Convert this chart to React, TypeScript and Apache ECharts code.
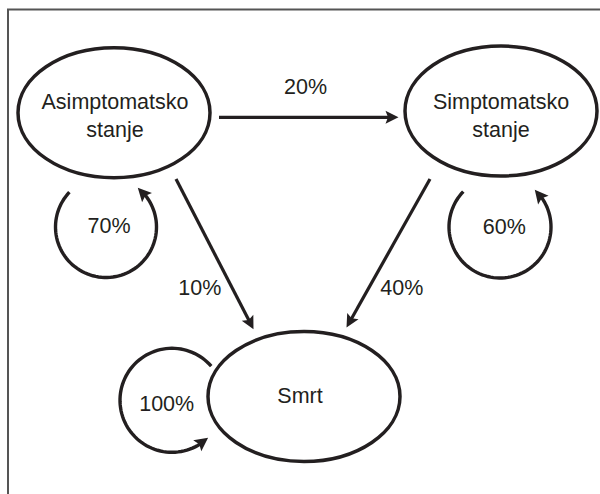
import React, { useEffect, useRef } from 'react';
import * as echarts from 'echarts';

// ---------------- data ----------------
const stateNames = ['Asimptomatsko\nstanje', 'Simptomatsko\nstanje', 'Smrt'];
const selfLoopPct = [70, 60, 100];
const transitionFrom = [0, 0, 1];
const transitionTo = [1, 2, 2];
const transitionPct = [20, 10, 40];

// ---------------- layout (data space = 600 x 494 canvas) ----------------
const nodeCenter = [[114, 112.7], [501, 111], [304, 396.5]];
const nodeRadius = [96, 65];
const nodeLabelPos = [[115, 116], [501, 115.5], [300, 395.5]];
const edgeStart = [[219, 117.3], [176, 179], [430, 179]];
const edgeEnd = [[398.5, 117.3], [253.5, 329.3], [346.5, 327.5]];
const edgeLabelPos = [[305.5, 87.2], [199.8, 287.5], [401.8, 287.5]];
const loopCenter = [[106, 227], [500, 227], [172, 400.3]];
const loopRadius = [50.5, 51, 52];
const loopAngles = [[223.5, -51], [224, -47], [-41, -314]];
const loopLabelPos = [[109, 226], [504.3, 226.7], [166.7, 403.7]];

const INK = '#231f20';
const FONT = '"Liberation Sans", Arial, Helvetica, sans-serif';
const FONT_SIZE = 21.5;

type P = [number, number];

function arrowParts(start: P, tip: P, L = 13, hw = 6.5, notch = 2.5) {
  const dx = tip[0] - start[0];
  const dy = tip[1] - start[1];
  const len = Math.hypot(dx, dy) || 1;
  const ux = dx / len, uy = dy / len;
  const px = -uy, py = ux;
  const bx = tip[0] - ux * L, by = tip[1] - uy * L;
  const head: P[] = [
    tip,
    [bx + px * hw, by + py * hw],
    [tip[0] - ux * (L - notch), tip[1] - uy * (L - notch)],
    [bx - px * hw, by - py * hw],
  ];
  const lineEnd: P = [tip[0] - ux * (L - notch - 1), tip[1] - uy * (L - notch - 1)];
  return { head, lineEnd };
}

function labelText(x: number, y: number, text: string) {
  return {
    type: 'text',
    x,
    y,
    silent: true,
    style: {
      text,
      fill: INK,
      font: `${FONT_SIZE}px ${FONT}`,
      fontSize: FONT_SIZE,
      fontFamily: FONT,
      align: 'center',
      verticalAlign: 'middle',
      lineHeight: 28,
    },
  };
}

export default function App() {
  const ref = useRef<HTMLDivElement | null>(null);

  useEffect(() => {
    document.body.style.margin = '0';
    if (!ref.current) return;
    const chart = echarts.init(ref.current, undefined, { renderer: 'svg' });

    const option: any = {
      animation: false,
      backgroundColor: '#ffffff',
      grid: { left: 0, right: 0, top: 0, bottom: 0 },
      xAxis: { type: 'value', min: 0, max: 600, show: false },
      yAxis: { type: 'value', min: 0, max: 494, inverse: true, show: false },
      graphic: [
        {
          type: 'rect',
          shape: { x: 8, y: 9.5, width: 640, height: 540 },
          style: { fill: 'none', stroke: '#555555', lineWidth: 2 },
          silent: true,
          z: 0,
        },
      ],
      series: [
        // transitions between states
        {
          type: 'custom',
          coordinateSystem: 'cartesian2d',
          silent: true,
          clip: false,
          data: transitionPct.map((p, i) => [edgeLabelPos[i][0], edgeLabelPos[i][1], i, transitionFrom[i], transitionTo[i], p]),
          renderItem: (params: any, api: any) => {
            const i = api.value(2);
            const pct = api.value(5);
            const s = api.coord(edgeStart[i]) as P;
            const e = api.coord(edgeEnd[i]) as P;
            const { head, lineEnd } = arrowParts(s, e);
            const lp = api.coord(edgeLabelPos[i]);
            return {
              type: 'group',
              children: [
                {
                  type: 'line',
                  shape: { x1: s[0], y1: s[1], x2: lineEnd[0], y2: lineEnd[1] },
                  style: { stroke: INK, lineWidth: 3.2, lineCap: 'butt' },
                },
                { type: 'polygon', shape: { points: head }, style: { fill: INK, stroke: 'none' } },
                labelText(lp[0], lp[1], `${pct}%`),
              ],
            };
          },
        },
        // self loops
        {
          type: 'custom',
          coordinateSystem: 'cartesian2d',
          silent: true,
          clip: false,
          data: selfLoopPct.map((p, i) => [loopLabelPos[i][0], loopLabelPos[i][1], i, p]),
          renderItem: (params: any, api: any) => {
            const i = api.value(2);
            const pct = api.value(3);
            const [cx, cy] = loopCenter[i];
            const r = loopRadius[i];
            const [a0, a1] = loopAngles[i];
            const sign = a1 > a0 ? 1 : -1;
            const L = 13.5, notch = 2.5;
            const degPerPx = 180 / (Math.PI * r);
            const lineEndA = a1 - sign * (L - notch - 1) * degPerPx;
            const n = 80;
            const pts: P[] = [];
            for (let k = 0; k <= n; k++) {
              const a = ((a0 + (lineEndA - a0) * (k / n)) * Math.PI) / 180;
              pts.push(api.coord([cx + r * Math.cos(a), cy + r * Math.sin(a)]) as P);
            }
            const aTip = (a1 * Math.PI) / 180;
            const aBack = ((a1 - sign * L * degPerPx) * Math.PI) / 180;
            const tip = api.coord([cx + r * Math.cos(aTip), cy + r * Math.sin(aTip)]) as P;
            const back = api.coord([cx + r * Math.cos(aBack), cy + r * Math.sin(aBack)]) as P;
            const { head } = arrowParts(back, tip, L, 6.8, notch);
            const lp = api.coord(loopLabelPos[i]);
            return {
              type: 'group',
              children: [
                {
                  type: 'polyline',
                  shape: { points: pts },
                  style: { stroke: INK, lineWidth: 3.4, fill: null, lineCap: 'butt' },
                },
                { type: 'polygon', shape: { points: head }, style: { fill: INK, stroke: 'none' } },
                labelText(lp[0], lp[1], `${pct}%`),
              ],
            };
          },
        },
        // states
        {
          type: 'custom',
          coordinateSystem: 'cartesian2d',
          silent: true,
          clip: false,
          data: stateNames.map((name, i) => [nodeCenter[i][0], nodeCenter[i][1], i]),
          renderItem: (params: any, api: any) => {
            const i = api.value(2);
            const c = api.coord([api.value(0), api.value(1)]);
            const edge = api.coord([api.value(0) + nodeRadius[0], api.value(1) + nodeRadius[1]]);
            const rx = Math.abs(edge[0] - c[0]);
            const ry = Math.abs(edge[1] - c[1]);
            const lp = api.coord(nodeLabelPos[i]);
            return {
              type: 'group',
              children: [
                {
                  type: 'ellipse',
                  shape: { cx: c[0], cy: c[1], rx, ry },
                  style: { fill: '#ffffff', stroke: INK, lineWidth: 3.5 },
                },
                labelText(lp[0], lp[1], stateNames[i]),
              ],
            };
          },
        },
      ],
    };

    chart.setOption(option);
    return () => chart.dispose();
  }, []);

  return <div ref={ref} style={{ width: 600, height: 494 }} />;
}
